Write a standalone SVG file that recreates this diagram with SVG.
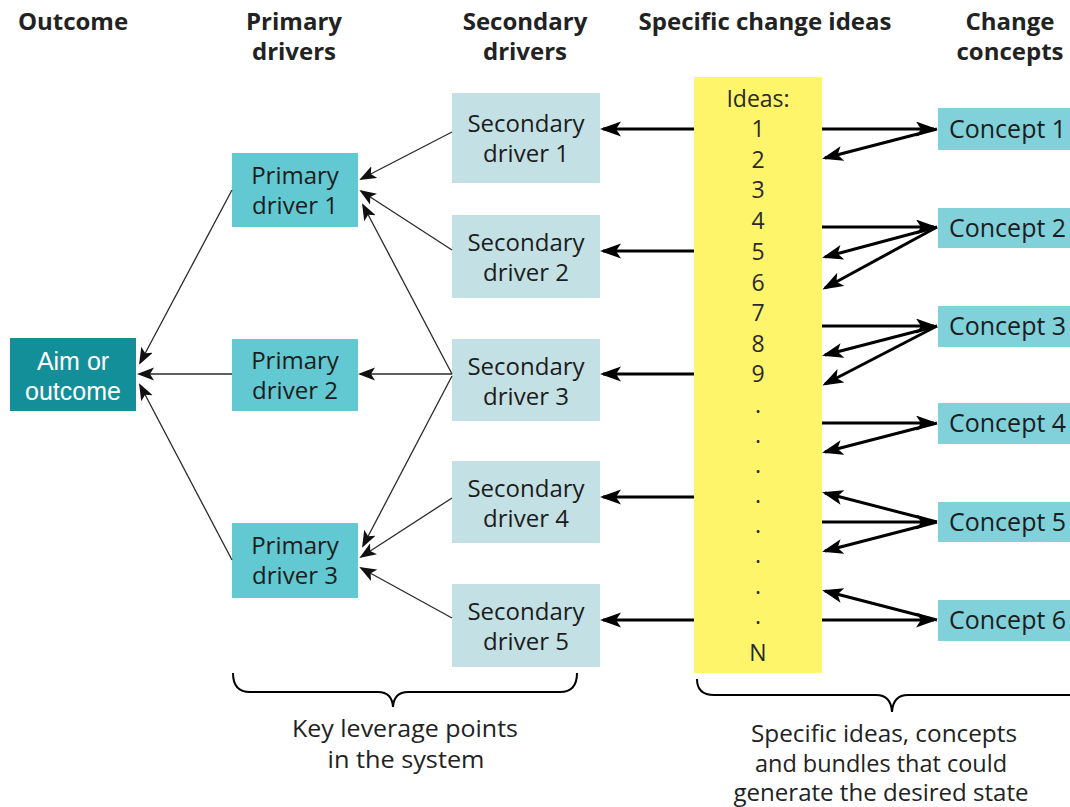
<svg xmlns="http://www.w3.org/2000/svg" width="1070" height="807" viewBox="0 0 1070 807">
<style>
.hdr{font-family:"Open Sans","Liberation Sans",sans-serif;font-weight:bold;font-size:24px;fill:#222;text-anchor:middle}
.lbl{font-family:"Open Sans","Liberation Sans",sans-serif;font-size:24px;fill:#1c1c1c;text-anchor:middle}
.con{font-family:"Open Sans","Liberation Sans",sans-serif;font-size:25px;fill:#1c1c1c}
.aim{font-family:"Liberation Sans",Arial,sans-serif;font-size:25px;fill:#fff;text-anchor:middle}
.idea{font-family:"Open Sans","Liberation Sans",sans-serif;font-size:23px;fill:#2a2a2a;text-anchor:middle}
.note{font-family:"Open Sans","Liberation Sans",sans-serif;font-size:23px;fill:#222;text-anchor:middle}
.thin{stroke:#2a2a2a;stroke-width:1.3;fill:none;marker-end:url(#ah)}
.thick{stroke:#000;stroke-width:3;fill:none;marker-end:url(#AH)}
.brace{stroke:#000;stroke-width:2;fill:none}
.pri{fill:#62c8d1}
.sec{fill:#c3e1e5}
.cpt{fill:#80d1d9}
</style>
<defs>
<marker id="AH" markerUnits="userSpaceOnUse" markerWidth="23" markerHeight="17" refX="18" refY="7.5" orient="auto"><path d="M0,0 L21,7.5 L0,15 L5,7.5 Z" fill="#000"/></marker>
<marker id="ah" markerUnits="userSpaceOnUse" markerWidth="19" markerHeight="14" refX="15" refY="6.5" orient="auto"><path d="M0,0 L17,6.5 L0,13 L4,6.5 Z" fill="#111"/></marker>
</defs>
<rect width="1070" height="807" fill="#fff"/>

<g id="headers">
<text class="hdr" x="73" y="30">Outcome</text>
<text class="hdr" x="294" y="30">Primary</text>
<text class="hdr" x="294" y="60">drivers</text>
<text class="hdr" x="525" y="30">Secondary</text>
<text class="hdr" x="525" y="60">drivers</text>
<text class="hdr" x="765" y="30">Specific change ideas</text>
<text class="hdr" x="1010" y="30">Change</text>
<text class="hdr" x="1010" y="60">concepts</text>
</g>

<g id="aim">
<rect x="10" y="338" width="126" height="73" fill="#128f98"/>
<text class="aim" x="73" y="370">Aim or</text>
<text class="aim" x="73" y="400">outcome</text>
</g>

<g id="primary1"><rect class="pri" x="232" y="153" width="126" height="74"/>
<text class="lbl" x="295" y="184">Primary</text><text class="lbl" x="295" y="214">driver 1</text></g>
<g id="primary2"><rect class="pri" x="232" y="339" width="126" height="72"/>
<text class="lbl" x="295" y="369">Primary</text><text class="lbl" x="295" y="399">driver 2</text></g>
<g id="primary3"><rect class="pri" x="232" y="523" width="126" height="75"/>
<text class="lbl" x="295" y="554">Primary</text><text class="lbl" x="295" y="584">driver 3</text></g>

<g id="secondary1"><rect class="sec" x="452" y="93" width="148" height="90"/>
<text class="lbl" x="526" y="132">Secondary</text><text class="lbl" x="526" y="162">driver 1</text></g>
<g id="secondary2"><rect class="sec" x="452" y="215" width="148" height="83"/>
<text class="lbl" x="526" y="251">Secondary</text><text class="lbl" x="526" y="281">driver 2</text></g>
<g id="secondary3"><rect class="sec" x="452" y="339" width="148" height="82"/>
<text class="lbl" x="526" y="375">Secondary</text><text class="lbl" x="526" y="405">driver 3</text></g>
<g id="secondary4"><rect class="sec" x="452" y="461" width="148" height="82"/>
<text class="lbl" x="526" y="497">Secondary</text><text class="lbl" x="526" y="527">driver 4</text></g>
<g id="secondary5"><rect class="sec" x="452" y="584" width="148" height="83"/>
<text class="lbl" x="526" y="620">Secondary</text><text class="lbl" x="526" y="650">driver 5</text></g>

<g id="ideas">
<rect x="694" y="77" width="128" height="596" fill="#fff56b"/>
<text class="idea" x="758" y="107">Ideas:</text>
<text class="idea" x="758" y="137">1</text>
<text class="idea" x="758" y="168">2</text>
<text class="idea" x="758" y="198">3</text>
<text class="idea" x="758" y="229">4</text>
<text class="idea" x="758" y="260">5</text>
<text class="idea" x="758" y="291">6</text>
<text class="idea" x="758" y="321">7</text>
<text class="idea" x="758" y="352">8</text>
<text class="idea" x="758" y="382">9</text>
<text class="idea" x="758" y="413">.</text>
<text class="idea" x="758" y="443">.</text>
<text class="idea" x="758" y="473">.</text>
<text class="idea" x="758" y="503">.</text>
<text class="idea" x="758" y="533">.</text>
<text class="idea" x="758" y="563">.</text>
<text class="idea" x="758" y="594">.</text>
<text class="idea" x="758" y="624">.</text>
<text class="idea" x="758" y="661">N</text>
</g>

<g id="concept1"><rect class="cpt" x="938" y="108" width="140" height="42"/><text class="con" x="949" y="138">Concept 1</text></g>
<g id="concept2"><rect class="cpt" x="938" y="208" width="140" height="40"/><text class="con" x="949" y="237">Concept 2</text></g>
<g id="concept3"><rect class="cpt" x="938" y="306" width="140" height="41"/><text class="con" x="949" y="335">Concept 3</text></g>
<g id="concept4"><rect class="cpt" x="938" y="403" width="140" height="41"/><text class="con" x="949" y="432">Concept 4</text></g>
<g id="concept5"><rect class="cpt" x="938" y="502" width="140" height="40"/><text class="con" x="949" y="531">Concept 5</text></g>
<g id="concept6"><rect class="cpt" x="938" y="600" width="140" height="41"/><text class="con" x="949" y="629">Concept 6</text></g>

<g id="connectors">
<path class="thin" d="M452,132 L361,179"/>
<path class="thin" d="M452,250 L361,191"/>
<path class="thin" d="M452,374 L363,205"/>
<path class="thin" d="M452,374 L360,374"/>
<path class="thin" d="M452,376 L363,546"/>
<path class="thin" d="M452,498 L361,557"/>
<path class="thin" d="M452,618 L361,568"/>
<path class="thin" d="M232,190 L140,363"/>
<path class="thin" d="M232,374 L139,374"/>
<path class="thin" d="M232,560 L140,385"/>

<path class="thick" d="M694,129 L603,129"/>
<path class="thick" d="M694,251 L603,251"/>
<path class="thick" d="M694,374 L603,374"/>
<path class="thick" d="M694,497 L603,497"/>
<path class="thick" d="M694,620 L603,620"/>

<path class="thick" d="M822,129 L934,129"/>
<path class="thick" d="M937,129 L825,158"/>
<path class="thick" d="M822,227 L934,227"/>
<path class="thick" d="M937,227 L825,257"/>
<path class="thick" d="M937,227 L825,288"/>
<path class="thick" d="M822,326 L934,326"/>
<path class="thick" d="M937,326 L825,355"/>
<path class="thick" d="M937,326 L825,384"/>
<path class="thick" d="M822,423 L934,423"/>
<path class="thick" d="M937,423 L825,452"/>
<path class="thick" d="M937,522 L825,493"/>
<path class="thick" d="M822,522 L934,522"/>
<path class="thick" d="M937,522 L825,551"/>
<path class="thick" d="M937,620 L825,591"/>
<path class="thick" d="M822,620 L934,620"/>
</g>

<g id="brace-left">
<path class="brace" d="M233,673 Q233,692 250,692 L378,692 Q392,692 393,707 Q394,692 408,692 L560,692 Q577,692 577,673"/>
<text class="note" x="405" y="737" textLength="226" lengthAdjust="spacingAndGlyphs">Key leverage points</text>
<text class="note" x="406" y="768" textLength="157" lengthAdjust="spacingAndGlyphs">in the system</text>
</g>
<g id="brace-right">
<path class="brace" d="M697,679 Q697,695 714,695 L876,695 Q891,695 892,712 Q893,695 908,695 L1075,695"/>
<text class="note" x="884" y="742" textLength="266" lengthAdjust="spacingAndGlyphs">Specific ideas, concepts</text>
<text class="note" x="881" y="772" textLength="252" lengthAdjust="spacingAndGlyphs">and bundles that could</text>
<text class="note" x="881" y="801" textLength="295" lengthAdjust="spacingAndGlyphs">generate the desired state</text>
</g>
</svg>
